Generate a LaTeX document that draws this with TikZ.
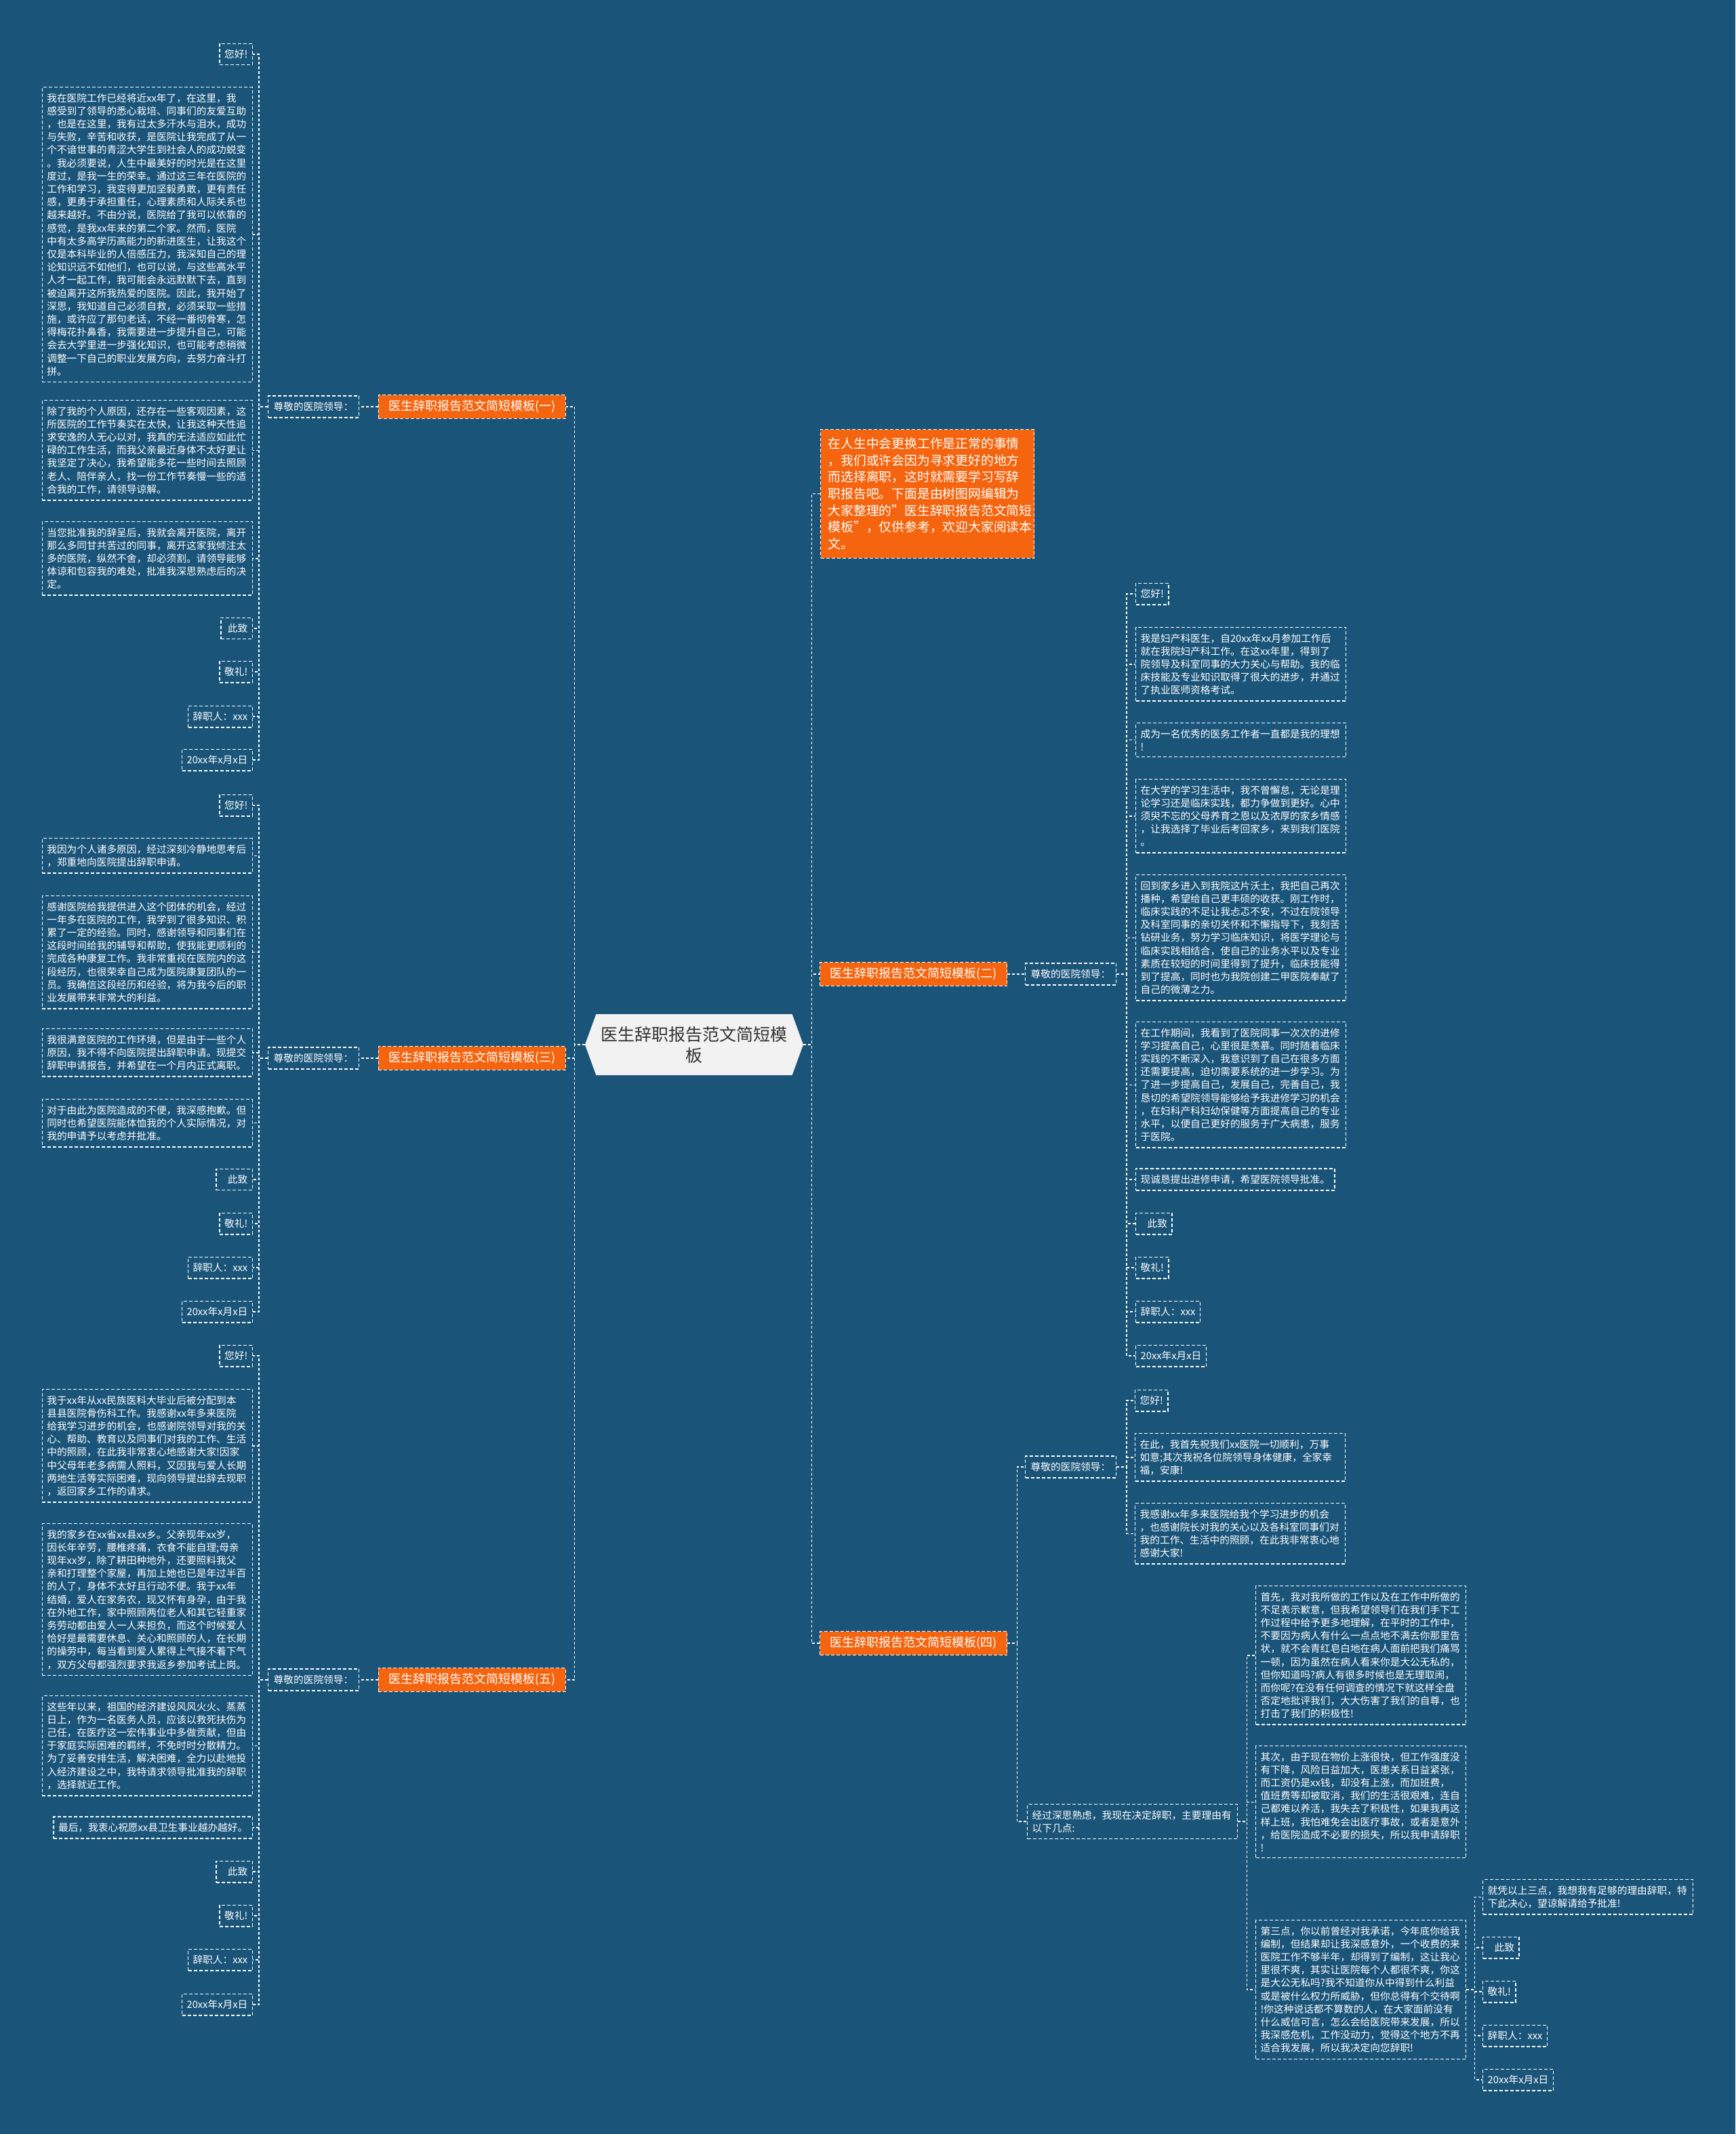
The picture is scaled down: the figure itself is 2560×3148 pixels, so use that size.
\documentclass[tikz,border=0pt]{standalone}
\usepackage{fontspec}
\setmainfont{Noto Sans CJK SC}
\usetikzlibrary{shapes.symbols}

\definecolor{bgblue}{HTML}{1A5479}
\definecolor{topicorange}{HTML}{F5640E}
\definecolor{hubgray}{HTML}{F2F2F2}
\definecolor{hubtext}{HTML}{333333}

\tikzset{
  link/.style={draw=white, line width=1.4pt, dash pattern=on 4pt off 3pt},
  leaf/.style={draw=white, line width=1.4pt, dash pattern=on 5pt off 3pt, text=white,
    inner xsep=7pt, inner ysep=9pt, font=\fontsize{14.7}{19.2}\selectfont},
  para/.style={leaf, text width=296pt, align=left},
  sub/.style={leaf, inner xsep=8pt},
  topic/.style={fill=topicorange, draw=white, line width=1.2pt, dash pattern=on 5pt off 3pt,
    text=white, inner xsep=15pt, inner ysep=8pt, font=\fontsize{18}{22}\selectfont},
  intro/.style={topic, text width=293pt, align=left, inner xsep=11pt, inner ysep=12pt,
    font=\fontsize{18.8}{24.7}\selectfont},
  hub/.style={shape=signal, signal to=east and west, signal pointer angle=140, fill=hubgray,
    text=hubtext, align=center, minimum width=322pt, minimum height=90pt,
    font=\fontsize{25}{31}\selectfont}
}

\begin{document}
\begin{tikzpicture}[x=1pt,y=-1pt]
\useasboundingbox (0,0) rectangle (2560,3148);
\fill[bgblue] (0,0) rectangle (2560,3148);

\node[hub] (c) at (1024,1541) {医生辞职报告范文简短模\\板};

% left side
\node[topic, anchor=east] (t1) at (835,600) {医生辞职报告范文简短模板(一)};
\node[topic, anchor=east] (t3) at (835,1561) {医生辞职报告范文简短模板(三)};
\node[topic, anchor=east] (t5) at (835,2478) {医生辞职报告范文简短模板(五)};
\node[sub, anchor=east] (s1) at (530,600) {尊敬的医院领导：};
\node[sub, anchor=east] (s3) at (530,1561) {尊敬的医院领导：};
\node[sub, anchor=east] (s5) at (530,2478) {尊敬的医院领导：};

\node[leaf, anchor=east] (a1) at (373,80) {您好!};
\node[para, anchor=north east] (a2) at (373,128) {我在医院工作已经将近xx年了，在这里，我\\感受到了领导的悉心栽培、同事们的友爱互助\\，也是在这里，我有过太多汗水与泪水，成功\\与失败，辛苦和收获，是医院让我完成了从一\\个不谙世事的青涩大学生到社会人的成功蜕变\\。我必须要说，人生中最美好的时光是在这里\\度过，是我一生的荣幸。通过这三年在医院的\\工作和学习，我变得更加坚毅勇敢，更有责任\\感，更勇于承担重任，心理素质和人际关系也\\越来越好。不由分说，医院给了我可以依靠的\\感觉，是我xx年来的第二个家。然而，医院\\中有太多高学历高能力的新进医生，让我这个\\仅是本科毕业的人倍感压力，我深知自己的理\\论知识远不如他们，也可以说，与这些高水平\\人才一起工作，我可能会永远默默下去，直到\\被迫离开这所我热爱的医院。因此，我开始了\\深思，我知道自己必须自救，必须采取一些措\\施，或许应了那句老话，不经一番彻骨寒，怎\\得梅花扑鼻香，我需要进一步提升自己，可能\\会去大学里进一步强化知识，也可能考虑稍微\\调整一下自己的职业发展方向，去努力奋斗打\\拼。};
\node[para, anchor=north east] (a3) at (373,590) {除了我的个人原因，还存在一些客观因素，这\\所医院的工作节奏实在太快，让我这种天性追\\求安逸的人无心以对，我真的无法适应如此忙\\碌的工作生活，而我父亲最近身体不太好更让\\我坚定了决心，我希望能多花一些时间去照顾\\老人、陪伴亲人，找一份工作节奏慢一些的适\\合我的工作，请领导谅解。};
\node[para, anchor=north east] (a4) at (373,769) {当您批准我的辞呈后，我就会离开医院，离开\\那么多同甘共苦过的同事，离开这家我倾注太\\多的医院，纵然不舍，却必须割。请领导能够\\体谅和包容我的难处，批准我深思熟虑后的决\\定。};
\node[leaf, anchor=east] (a5) at (373,927) {\hspace*{3pt}此致};
\node[leaf, anchor=east] (a6) at (373,991) {敬礼!};
\node[leaf, anchor=east] (a7) at (373,1057) {辞职人：xxx};
\node[leaf, anchor=east] (a8) at (373,1121) {20xx年x月x日};

\node[leaf, anchor=east] (b1) at (373,1188) {您好!};
\node[para, anchor=north east] (b2) at (373,1236) {我因为个人诸多原因，经过深刻冷静地思考后\\，郑重地向医院提出辞职申请。};
\node[para, anchor=north east] (b3) at (373,1321) {感谢医院给我提供进入这个团体的机会，经过\\一年多在医院的工作，我学到了很多知识、积\\累了一定的经验。同时，感谢领导和同事们在\\这段时间给我的辅导和帮助，使我能更顺利的\\完成各种康复工作。我非常重视在医院内的这\\段经历，也很荣幸自己成为医院康复团队的一\\员。我确信这段经历和经验，将为我今后的职\\业发展带来非常大的利益。};
\node[para, anchor=north east] (b4) at (373,1517) {我很满意医院的工作环境，但是由于一些个人\\原因，我不得不向医院提出辞职申请。现提交\\辞职申请报告，并希望在一个月内正式离职。};
\node[para, anchor=north east] (b5) at (373,1621) {对于由此为医院造成的不便，我深感抱歉。但\\同时也希望医院能体恤我的个人实际情况，对\\我的申请予以考虑并批准。};
\node[leaf, anchor=east] (b6) at (373,1740) {\hspace*{10pt}此致};
\node[leaf, anchor=east] (b7) at (373,1805) {敬礼!};
\node[leaf, anchor=east] (b8) at (373,1870) {辞职人：xxx};
\node[leaf, anchor=east] (b9) at (373,1935) {20xx年x月x日};

\node[leaf, anchor=east] (e1) at (373,2000) {您好!};
\node[para, anchor=north east] (e2) at (373,2049) {我于xx年从xx民族医科大毕业后被分配到本\\县县医院骨伤科工作。我感谢xx年多来医院\\给我学习进步的机会，也感谢院领导对我的关\\心、帮助、教育以及同事们对我的工作、生活\\中的照顾，在此我非常衷心地感谢大家!因家\\中父母年老多病需人照料，又因我与爱人长期\\两地生活等实际困难，现向领导提出辞去现职\\，返回家乡工作的请求。};
\node[para, anchor=north east] (e3) at (373,2247) {我的家乡在xx省xx县xx乡。父亲现年xx岁，\\因长年辛劳，腰椎疼痛，衣食不能自理;母亲\\现年xx岁，除了耕田种地外，还要照料我父\\亲和打理整个家屋，再加上她也已是年过半百\\的人了，身体不太好且行动不便。我于xx年\\结婚，爱人在家务农，现又怀有身孕，由于我\\在外地工作，家中照顾两位老人和其它轻重家\\务劳动都由爱人一人来担负，而这个时候爱人\\恰好是最需要休息、关心和照顾的人，在长期\\的操劳中，每当看到爱人累得上气接不着下气\\，双方父母都强烈要求我返乡参加考试上岗。};
\node[para, anchor=north east] (e4) at (373,2501) {这些年以来，祖国的经济建设风风火火、蒸蒸\\日上，作为一名医务人员，应该以救死扶伤为\\己任，在医疗这一宏伟事业中多做贡献，但由\\于家庭实际困难的羁绊，不免时时分散精力。\\为了妥善安排生活，解决困难，全力以赴地投\\入经济建设之中，我特请求领导批准我的辞职\\，选择就近工作。};
\node[leaf, anchor=east] (e5) at (373,2696) {最后，我衷心祝愿xx县卫生事业越办越好。};
\node[leaf, anchor=east] (e6) at (373,2761) {\hspace*{10pt}此致};
\node[leaf, anchor=east] (e7) at (373,2826) {敬礼!};
\node[leaf, anchor=east] (e8) at (373,2891) {辞职人：xxx};
\node[leaf, anchor=east] (e9) at (373,2957) {20xx年x月x日};

% right side
\node[intro, anchor=north west] (intro) at (1210,633) {在人生中会更换工作是正常的事情\\，我们或许会因为寻求更好的地方\\而选择离职，这时就需要学习写辞\\职报告吧。下面是由树图网编辑为\\大家整理的"医生辞职报告范文简短\\模板"，仅供参考，欢迎大家阅读本\\文。};
\node[topic, anchor=west] (t2) at (1209,1437) {医生辞职报告范文简短模板(二)};
\node[topic, anchor=west] (t4) at (1209,2424) {医生辞职报告范文简短模板(四)};
\node[sub, anchor=west] (s2) at (1512,1437) {尊敬的医院领导：};
\node[sub, anchor=west] (s4a) at (1512,2164) {尊敬的医院领导：};
\node[para, anchor=north west] (s4b) at (1515,2661) {经过深思熟虑，我现在决定辞职，主要理由有\\以下几点:};

\node[leaf, anchor=west] (d1) at (1675,876) {您好!};
\node[para, anchor=north west] (d2) at (1675,925) {我是妇产科医生，自20xx年xx月参加工作后\\就在我院妇产科工作。在这xx年里，得到了\\院领导及科室同事的大力关心与帮助。我的临\\床技能及专业知识取得了很大的进步，并通过\\了执业医师资格考试。};
\node[para, anchor=north west] (d3) at (1675,1066) {成为一名优秀的医务工作者一直都是我的理想\\!};
\node[para, anchor=north west] (d4) at (1675,1149) {在大学的学习生活中，我不曾懈怠，无论是理\\论学习还是临床实践，都力争做到更好。心中\\须臾不忘的父母养育之恩以及浓厚的家乡情感\\，让我选择了毕业后考回家乡，来到我们医院\\。};
\node[para, anchor=north west] (d5) at (1675,1290) {回到家乡进入到我院这片沃土，我把自己再次\\播种，希望给自己更丰硕的收获。刚工作时，\\临床实践的不足让我忐忑不安，不过在院领导\\及科室同事的亲切关怀和不懈指导下，我刻苦\\钻研业务，努力学习临床知识，将医学理论与\\临床实践相结合，使自己的业务水平以及专业\\素质在较短的时间里得到了提升，临床技能得\\到了提高，同时也为我院创建二甲医院奉献了\\自己的微薄之力。};
\node[para, anchor=north west] (d6) at (1675,1507) {在工作期间，我看到了医院同事一次次的进修\\学习提高自己，心里很是羡慕。同时随着临床\\实践的不断深入，我意识到了自己在很多方面\\还需要提高，迫切需要系统的进一步学习。为\\了进一步提高自己，发展自己，完善自己，我\\恳切的希望院领导能够给予我进修学习的机会\\，在妇科产科妇幼保健等方面提高自己的专业\\水平，以便自己更好的服务于广大病患，服务\\于医院。};
\node[leaf, anchor=west] (d7) at (1675,1740) {现诚恳提出进修申请，希望医院领导批准。};
\node[leaf, anchor=west] (d8) at (1675,1805) {\hspace*{10pt}此致};
\node[leaf, anchor=west] (d9) at (1675,1870) {敬礼!};
\node[leaf, anchor=west] (d10) at (1675,1935) {辞职人：xxx};
\node[leaf, anchor=west] (d11) at (1675,2000) {20xx年x月x日};

\node[leaf, anchor=west] (f1) at (1674,2066) {您好!};
\node[para, anchor=north west] (f2) at (1674,2114) {在此，我首先祝我们xx医院一切顺利，万事\\如意;其次我祝各位院领导身体健康，全家幸\\福，安康!};
\node[para, anchor=north west] (f3) at (1674,2217) {我感谢xx年多来医院给我个学习进步的机会\\，也感谢院长对我的关心以及各科室同事们对\\我的工作、生活中的照顾，在此我非常衷心地\\感谢大家!};

\node[para, anchor=north west] (g1) at (1852,2339) {首先，我对我所做的工作以及在工作中所做的\\不足表示歉意，但我希望领导们在我们手下工\\作过程中给予更多地理解，在平时的工作中，\\不要因为病人有什么一点点地不满去你那里告\\状，就不会青红皂白地在病人面前把我们痛骂\\一顿，因为虽然在病人看来你是大公无私的，\\但你知道吗?病人有很多时候也是无理取闹，\\而你呢?在没有任何调查的情况下就这样全盘\\否定地批评我们，大大伤害了我们的自尊，也\\打击了我们的积极性!};
\node[para, anchor=north west] (g2) at (1852,2575) {其次，由于现在物价上涨很快，但工作强度没\\有下降，风险日益加大，医患关系日益紧张，\\而工资仍是xx钱，却没有上涨，而加班费，\\值班费等却被取消，我们的生活很艰难，连自\\己都难以养活，我失去了积极性，如果我再这\\样上班，我怕难免会出医疗事故，或者是意外\\，给医院造成不必要的损失，所以我申请辞职\\!};
\node[para, anchor=north west] (g3) at (1852,2832) {第三点，你以前曾经对我承诺，今年底你给我\\编制，但结果却让我深感意外，一个收费的来\\医院工作不够半年，却得到了编制，这让我心\\里很不爽，其实让医院每个人都很不爽，你这\\是大公无私吗?我不知道你从中得到什么利益\\或是被什么权力所威胁，但你总得有个交待啊\\!你这种说话都不算数的人，在大家面前没有\\什么威信可言，怎么会给医院带来发展，所以\\我深感危机，工作没动力，觉得这个地方不再\\适合我发展，所以我决定向您辞职!};

\node[para, anchor=north west] (h1) at (2187,2772) {就凭以上三点，我想我有足够的理由辞职，特\\下此决心，望谅解请给予批准!};
\node[leaf, anchor=west] (h2) at (2187,2873) {\hspace*{10pt}此致};
\node[leaf, anchor=west] (h3) at (2187,2938) {敬礼!};
\node[leaf, anchor=west] (h4) at (2187,3003) {辞职人：xxx};
\node[leaf, anchor=west] (h5) at (2187,3068) {20xx年x月x日};

% connectors
\foreach \n in {t1,t3,t5}
  \draw[link] (c.west) -- ++(-15,0) |- (\n.east);
\foreach \n in {intro,t2,t4}
  \draw[link] (c.east) -- ++(12,0) |- (\n.west);
\draw[link] (t1.west) -- (s1.east);
\draw[link] (t3.west) -- (s3.east);
\draw[link] (t5.west) -- (s5.east);
\draw[link] (t2.east) -- (s2.west);
\foreach \n in {a1,a2,a3,a4,a5,a6,a7,a8}
  \draw[link] (s1.west) -- ++(-13,0) |- (\n.east);
\foreach \n in {b1,b2,b3,b4,b5,b6,b7,b8,b9}
  \draw[link] (s3.west) -- ++(-13,0) |- (\n.east);
\foreach \n in {e1,e2,e3,e4,e5,e6,e7,e8,e9}
  \draw[link] (s5.west) -- ++(-13,0) |- (\n.east);
\foreach \n in {d1,d2,d3,d4,d5,d6,d7,d8,d9,d10,d11}
  \draw[link] (s2.east) -- ++(15,0) |- (\n.west);
\foreach \n in {s4a,s4b}
  \draw[link] (t4.east) -- ++(14,0) |- (\n.west);
\foreach \n in {f1,f2,f3}
  \draw[link] (s4a.east) -- ++(15,0) |- (\n.west);
\foreach \n in {g1,g2,g3}
  \draw[link] (s4b.east) -- ++(13,0) |- (\n.west);
\foreach \n in {h1,h2,h3,h4,h5}
  \draw[link] (g3.east) -- ++(12,0) |- (\n.west);
\end{tikzpicture}
\end{document}
